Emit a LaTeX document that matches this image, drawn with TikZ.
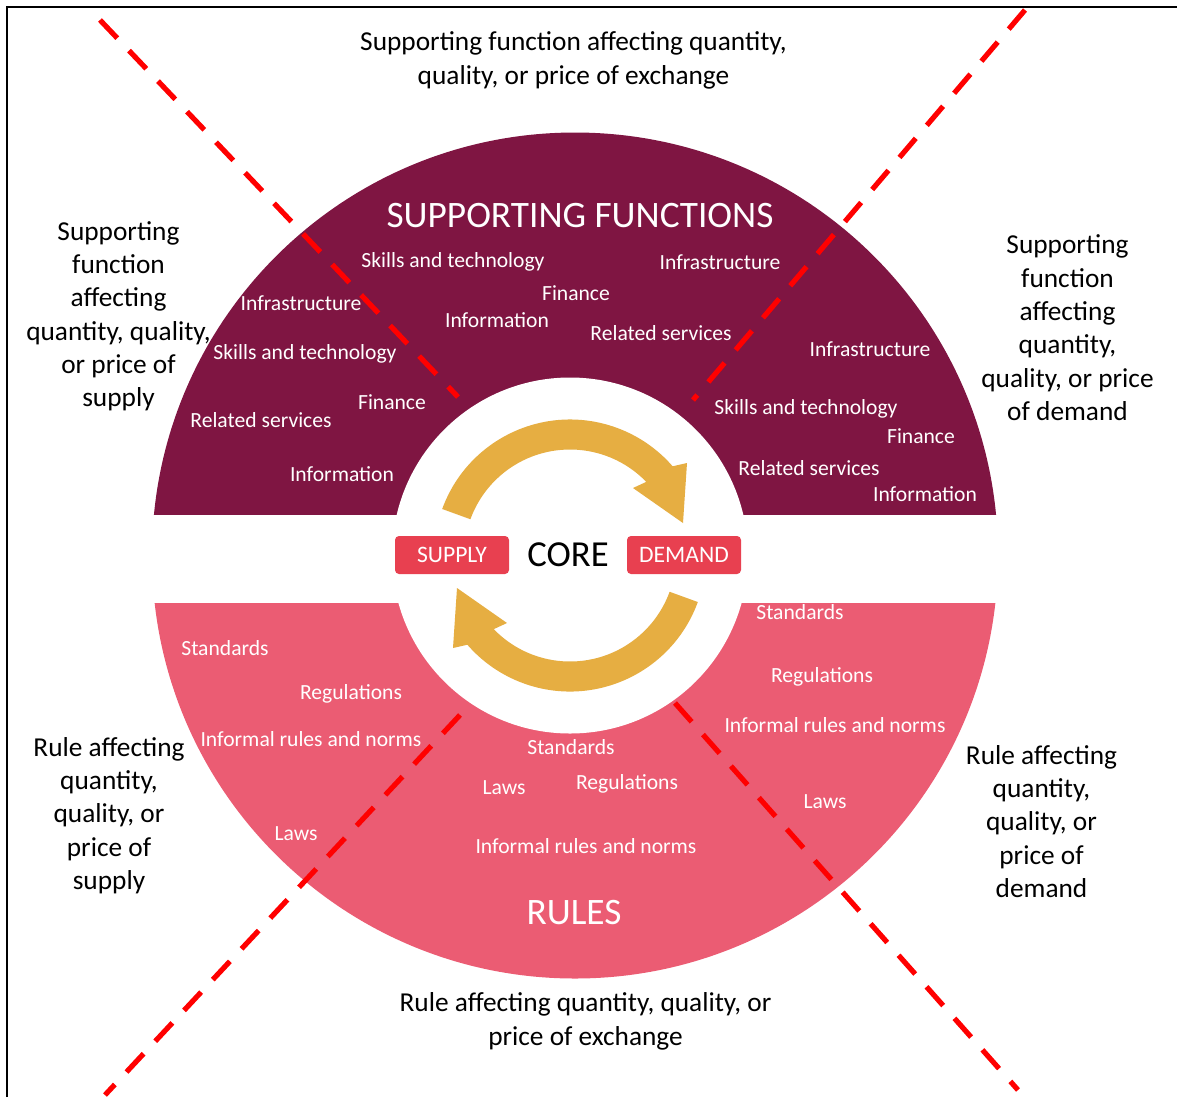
\documentclass[tikz,border=0pt]{standalone}
\usepackage{fontspec}
\setmainfont{Carlito}
\definecolor{sfmaroon}{RGB}{127,21,66}
\definecolor{rulepink}{RGB}{235,92,115}
\definecolor{boxred}{RGB}{232,64,80}
\definecolor{arrgold}{RGB}{230,174,66}
\definecolor{xred}{RGB}{255,0,0}
\tikzset{
  outerlbl/.style={align=center, text=black, font=\fontsize{20.5}{25}\selectfont, inner sep=0pt, yshift=-1.8pt},
  inlbl/.style={text=white, font=\fontsize{16.2}{19.5}\selectfont, inner sep=0pt, yshift=-1.5pt},
  titlelbl/.style={text=white, font=\fontsize{28}{33}\selectfont, inner sep=0pt, yshift=-1pt},
  corelbl/.style={text=black, font=\fontsize{27.5}{33}\selectfont, inner sep=0pt},
  sdbox/.style={fill=boxred, rounded corners=3pt, text=white, minimum width=85.5pt, minimum height=28.5pt, inner sep=0pt, font=\fontsize{17.7}{21}\selectfont},
  xline/.style={draw=xred, line width=3.9pt, dash pattern=on 18.8pt off 12.8pt},
  cyclearrow/.style={fill=arrgold}
}
\begin{document}
\begin{tikzpicture}[x=0.75pt,y=-0.75pt]
\useasboundingbox (0,0) rectangle (1177,1097);
% frame (top and left edges)
\coordinate (fbl) at (7,1097);
\coordinate (ftl) at (7,7);
\coordinate (ftr) at (1177,7);
\draw[line width=1.6pt] (fbl) -- (ftl) -- (ftr);
% supporting functions half
\begin{scope}
  \clip (0,0) rectangle (1177,514);
  \fill[sfmaroon] (575,555.5) circle[radius=423];
\end{scope}
% rules half
\begin{scope}
  \clip (0,603) rectangle (1177,1097);
  \fill[rulepink] (575,555.5) circle[radius=423];
\end{scope}
% inner white disc
\fill[white] (570,555.5) circle[radius=178];
% cycle arrows
\begin{scope}[shift={(570,555.5)}, x=0.75pt, y=0.75pt]
  \fill[cyclearrow] (160:136) arc[start angle=160, end angle=41, radius=136]
     -- (117,92.5) -- (113,32.5) -- (63,67.5) -- (44:106)
     arc[start angle=44, end angle=160, radius=106] -- cycle;
\end{scope}
\begin{scope}[shift={(570,555.5)}, x=0.75pt, y=0.75pt, rotate=180]
  \fill[cyclearrow] (160:136) arc[start angle=160, end angle=41, radius=136]
     -- (117,92.5) -- (113,32.5) -- (63,67.5) -- (44:106)
     arc[start angle=44, end angle=160, radius=106] -- cycle;
\end{scope}
% core
\node[sdbox] (supply) at (452,555) {SUPPLY};
\node[sdbox] (demand) at (684,555) {DEMAND};
\node[corelbl] (core) at (568,555) {CORE};
% titles
\node[titlelbl] (sftitle) at (580,214) {SUPPORTING FUNCTIONS};
\node[titlelbl] (rtitle) at (574,911) {RULES};
% supporting function labels
\node[inlbl] (s1) at (453,260) {Skills and technology};
\node[inlbl] (s2) at (720,260) {Infrastructure};
\node[inlbl] (s3) at (576,291) {Finance};
\node[inlbl] (s4) at (301,301) {Infrastructure};
\node[inlbl] (s5) at (497,318) {Information};
\node[inlbl] (s6) at (661,331) {Related services};
\node[inlbl] (s7) at (870,347) {Infrastructure};
\node[inlbl] (s8) at (305,352) {Skills and technology};
\node[inlbl] (s9) at (392,400) {Finance};
\node[inlbl] (s10) at (806,407) {Skills and technology};
\node[inlbl] (s11) at (261,418) {Related services};
\node[inlbl] (s12) at (921,434) {Finance};
\node[inlbl] (s13) at (809,466) {Related services};
\node[inlbl] (s14) at (342,472) {Information};
\node[inlbl] (s15) at (925,492) {Information};
% rule labels
\node[inlbl] (r1) at (800,610) {Standards};
\node[inlbl] (r2) at (225,646) {Standards};
\node[inlbl] (r3) at (822,675) {Regulations};
\node[inlbl] (r4) at (351,692) {Regulations};
\node[inlbl] (r5) at (835,723) {Informal rules and norms};
\node[inlbl] (r6) at (311,737) {Informal rules and norms};
\node[inlbl] (r7) at (571,745) {Standards};
\node[inlbl] (r8) at (504,786) {Laws};
\node[inlbl] (r9) at (627,782) {Regulations};
\node[inlbl] (r10) at (825,800) {Laws};
\node[inlbl] (r11) at (296,832) {Laws};
\node[inlbl] (r12) at (586,844) {Informal rules and norms};
% outer labels
\node[outerlbl] (otop) at (573.5,58) {Supporting function affecting quantity,\\quality, or price of exchange};
\node[outerlbl] (oleft) at (118.5,314) {Supporting\\function\\affecting\\quantity, quality,\\or price of\\supply};
\node[outerlbl] (oright) at (1067.5,325.5) {Supporting\\function\\affecting\\quantity,\\quality, or price\\of demand};
\node[outerlbl] (obl) at (109,813) {Rule affecting\\quantity,\\quality, or\\price of\\supply};
\node[outerlbl] (obr) at (1041.5,819) {Rule affecting\\quantity,\\quality, or\\price of\\demand};
\node[outerlbl] (obot) at (585.5,1019) {Rule affecting quantity, quality, or\\price of exchange};
% dashed dividing lines
\coordinate (tla) at (100,20);   \coordinate (tlb) at (458,397);
\coordinate (tra) at (1025,10);  \coordinate (trb) at (693,400);
\coordinate (bla) at (460,715);  \coordinate (blb) at (105,1095);
\coordinate (bra) at (675,703);  \coordinate (brb) at (1018,1090);
\draw[xline] (tla) -- (tlb);
\draw[xline] (tra) -- (trb);
\draw[xline] (bla) -- (blb);
\draw[xline] (bra) -- (brb);
\end{tikzpicture}
\end{document}
